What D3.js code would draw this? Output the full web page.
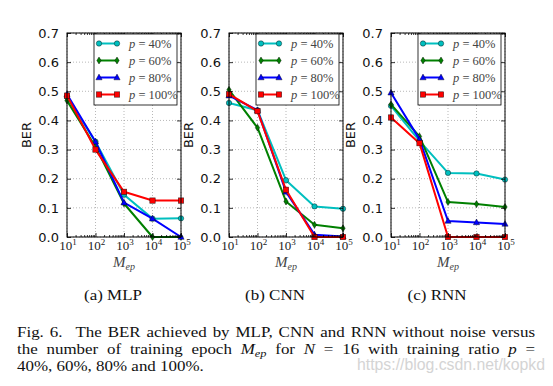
<!DOCTYPE html>
<html lang="en">
<head>
<meta charset="UTF-8">
<title>BER vs training epoch</title>
<script src="https://cdn.jsdelivr.net/npm/d3@7"></script>
<style>
    body { margin: 0; background: white; }
    svg { display: block; }
</style>
</head>
<body>
<svg></svg>
<script>
    // ---- data ----
    var epochs = [1e1, 1e2, 1e3, 1e4, 1e5];
    var ratios = ["40%", "60%", "80%", "100%"];
    var yTicks = [0, 0.1, 0.2, 0.3, 0.4, 0.5, 0.6, 0.7];
    var xTickExp = [1, 2, 3, 4, 5];

    var mlp40 = [0.480, 0.327, 0.145, 0.063, 0.064];
    var mlp60 = [0.468, 0.310, 0.115, 0.000, 0.000];
    var mlp80 = [0.490, 0.327, 0.118, 0.063, 0.000];
    var mlp100 = [0.485, 0.300, 0.155, 0.125, 0.125];

    var cnn40 = [0.460, 0.435, 0.195, 0.105, 0.097];
    var cnn60 = [0.505, 0.375, 0.122, 0.042, 0.030];
    var cnn80 = [0.485, 0.435, 0.155, 0.008, 0.002];
    var cnn100 = [0.490, 0.432, 0.162, 0.000, 0.000];

    var rnn40 = [0.450, 0.330, 0.220, 0.218, 0.197];
    var rnn60 = [0.455, 0.345, 0.120, 0.113, 0.103];
    var rnn80 = [0.495, 0.335, 0.055, 0.050, 0.045];
    var rnn100 = [0.410, 0.322, 0.000, 0.000, 0.000];

    var panelTitles = ["(a) MLP", "(b) CNN", "(c) RNN"];
    var panelSeries = [
        [mlp40, mlp60, mlp80, mlp100],
        [cnn40, cnn60, cnn80, cnn100],
        [rnn40, rnn60, rnn80, rnn100]
    ];

    // ---- layout ----
    var W = 553, H = 386;
    var svg = d3.select("svg").attr("width", W).attr("height", H);
    var panelLeft = [67, 229, 391];
    var plotW = 114, plotTop = 33, plotBottom = 237;
    var colors = ["#00bfbf", "#008000", "#0000ff", "#ff0000"];
    var markers = ["circle", "thin", "triangle", "square"];
    var tickFont = "'DejaVu Sans', sans-serif";
    var serif = "'Liberation Serif', 'DejaVu Serif', serif";
    var stretch = 1.13; // the scan is wider than it is tall

    var minorTicks = [];
    for (var e = 1; e < 5; e++) {
        for (var m = 2; m <= 9; m++) minorTicks.push(m * Math.pow(10, e));
    }

    function drawMarker(g, type, x, y, color) {
        var mk;
        if (type === "circle") {
            mk = g.append("circle").attr("cx", x).attr("cy", y).attr("r", 2.7);
        } else if (type === "thin") {
            mk = g.append("path").attr("d", "M" + x + "," + (y - 3.5) + "L" + (x + 2.2) + "," + y +
                "L" + x + "," + (y + 3.5) + "L" + (x - 2.2) + "," + y + "Z");
        } else if (type === "triangle") {
            mk = g.append("path").attr("d", "M" + x + "," + (y - 3.4) + "L" + (x + 3.1) + "," + (y + 2.3) +
                "L" + (x - 3.1) + "," + (y + 2.3) + "Z");
        } else {
            mk = g.append("rect").attr("x", x - 2.7).attr("y", y - 2.7).attr("width", 5.4).attr("height", 5.4);
        }
        mk.attr("fill", color).attr("stroke", "#000").attr("stroke-width", 0.6).attr("stroke-opacity", 0.7);
    }

    panelSeries.forEach(function(series, pi) {
        var left = panelLeft[pi];
        var x = d3.scaleLog().domain([1e1, 1e5]).range([left, left + plotW]);
        var y = d3.scaleLinear().domain([0, 0.7]).range([plotBottom, plotTop]);
        var g = svg.append("g");

        // dotted grid
        g.append("g").selectAll("line").data(epochs).enter().append("line")
            .attr("x1", function(d) { return x(d); }).attr("x2", function(d) { return x(d); })
            .attr("y1", plotTop).attr("y2", plotBottom)
            .attr("stroke", "#888").attr("stroke-width", 0.6).attr("stroke-dasharray", "1,2");
        g.append("g").selectAll("line").data(yTicks).enter().append("line")
            .attr("x1", left).attr("x2", left + plotW)
            .attr("y1", function(d) { return y(d); }).attr("y2", function(d) { return y(d); })
            .attr("stroke", "#888").attr("stroke-width", 0.6).attr("stroke-dasharray", "1,2");

        // data lines
        var line = d3.line().x(function(d, i) { return x(epochs[i]); }).y(function(d) { return y(d); });
        series.forEach(function(vals, si) {
            g.append("path").datum(vals).attr("d", line)
                .attr("fill", "none").attr("stroke", colors[si]).attr("stroke-width", 2)
                .attr("stroke-linejoin", "round");
            vals.forEach(function(v, i) { drawMarker(g, markers[si], x(epochs[i]), y(v), colors[si]); });
        });

        // axes with inward ticks
        function styleAxis(sel) {
            sel.select(".domain").remove();
            sel.selectAll("line").attr("stroke", "#000").attr("stroke-width", 0.8);
        }
        g.append("g").attr("transform", "translate(0," + plotBottom + ")")
            .call(d3.axisBottom(x).tickValues(epochs).tickSize(-4).tickFormat("")).call(styleAxis);
        g.append("g").attr("transform", "translate(0," + plotBottom + ")")
            .call(d3.axisBottom(x).tickValues(minorTicks).tickSize(-2).tickFormat("")).call(styleAxis);
        g.append("g").attr("transform", "translate(0," + plotTop + ")")
            .call(d3.axisTop(x).tickValues(epochs).tickSize(-4).tickFormat("")).call(styleAxis);
        g.append("g").attr("transform", "translate(0," + plotTop + ")")
            .call(d3.axisTop(x).tickValues(minorTicks).tickSize(-2).tickFormat("")).call(styleAxis);
        g.append("g").attr("transform", "translate(" + (left + plotW) + ",0)")
            .call(d3.axisRight(y).tickValues(yTicks).tickSize(-4).tickFormat("")).call(styleAxis);
        var yAxis = g.append("g").attr("transform", "translate(" + left + ",0)")
            .call(d3.axisLeft(y).tickValues(yTicks).tickSize(-4).tickPadding(8).tickFormat(d3.format(".1f")));
        styleAxis(yAxis);
        yAxis.selectAll("text").attr("font-family", tickFont).attr("font-size", 13).attr("fill", "#111");

        // frame
        g.append("rect").attr("x", left).attr("y", plotTop).attr("width", plotW)
            .attr("height", plotBottom - plotTop).attr("fill", "none").attr("stroke", "#000").attr("stroke-width", 1);

        // x tick labels 10^k
        xTickExp.forEach(function(k) {
            var t = g.append("text").attr("x", x(Math.pow(10, k)) + 1).attr("y", 250)
                .attr("text-anchor", "middle").attr("font-family", serif).attr("font-size", 13).attr("fill", "#222");
            t.append("tspan").text("10");
            t.append("tspan").attr("dy", -5).attr("font-size", 9).text(k);
        });

        // x label M_ep
        var xl = g.append("text").attr("x", left + plotW / 2).attr("y", 267)
            .attr("text-anchor", "middle").attr("font-family", serif).attr("font-style", "italic")
            .attr("font-size", 15).attr("fill", "#444");
        xl.append("tspan").text("M");
        xl.append("tspan").attr("dy", 3).attr("font-size", 10).text("ep");

        // y label
        g.append("text").attr("transform", "translate(" + (left - 36) + "," + ((plotTop + plotBottom) / 2) + ") rotate(-90)")
            .attr("text-anchor", "middle").attr("font-family", tickFont).attr("font-size", 13).attr("fill", "#111")
            .text("BER");

        // legend
        var lgW = 83, lgH = 71;
        var lx = left + plotW - lgW - 4, ly = plotTop + 1;
        var lg = g.append("g");
        lg.append("rect").attr("x", lx).attr("y", ly).attr("width", lgW).attr("height", lgH)
            .attr("fill", "#fff").attr("stroke", "#000").attr("stroke-width", 0.8);
        ratios.forEach(function(r, si) {
            var ry = ly + 9.5 + si * 17;
            lg.append("line").attr("x1", lx + 5).attr("x2", lx + 23).attr("y1", ry).attr("y2", ry)
                .attr("stroke", colors[si]).attr("stroke-width", 2);
            drawMarker(lg, markers[si], lx + 5, ry, colors[si]);
            drawMarker(lg, markers[si], lx + 23, ry, colors[si]);
            var t = lg.append("text").attr("x", lx + 35).attr("y", ry + 4)
                .attr("font-family", serif).attr("font-size", 12.5).attr("fill", "#444");
            t.append("tspan").attr("font-style", "italic").text("p");
            t.append("tspan").text(" = " + r);
        });

        // sub caption
        svg.append("text").attr("transform", "translate(" + (left + plotW / 2 - 11) + ",300) scale(" + stretch + ",1)")
            .attr("text-anchor", "middle").attr("font-family", serif).attr("font-size", 15).attr("fill", "#111")
            .text(panelTitles[pi]);
    });

    // ---- figure caption, justified lines ----
    var capLeft = 17, capRight = 535;
    var line1 = [[["Fig."]], [["6."]], [["The"]], [["BER"]], [["achieved"]], [["by"]], [["MLP,"]], [["CNN"]],
        [["and"]], [["RNN"]], [["without"]], [["noise"]], [["versus"]]];
    var line2 = [[["the"]], [["number"]], [["of"]], [["training"]], [["epoch"]], [["M", "i"], ["ep", "s"]],
        [["for"]], [["N", "i"]], [["="]], [["16"]], [["with"]], [["training"]], [["ratio"]], [["p", "i"]], [["="]]];
    var gapWeights1 = [1, 2.2, 1, 1, 1, 1, 1, 1, 1, 1, 1, 1];

    var cap = svg.append("g").attr("transform", "translate(" + capLeft + ",0) scale(" + stretch + ",1)");
    var capWidth = (capRight - capLeft) / stretch;

    function justifyLine(words, yPos, weights) {
        var nodes = words.map(function(runs) {
            var t = cap.append("text").attr("y", yPos).attr("font-family", serif).attr("font-size", 15).attr("fill", "#111");
            runs.forEach(function(r) {
                var ts = t.append("tspan").text(r[0]);
                if (r[1] === "i") ts.attr("font-style", "italic");
                if (r[1] === "s") ts.attr("font-style", "italic").attr("font-size", 11).attr("dy", 3);
            });
            return t;
        });
        var widths = nodes.map(function(n) { return n.node().getComputedTextLength(); });
        var total = d3.sum(widths);
        var w = weights || words.slice(1).map(function() { return 1; });
        var gap = (capWidth - total) / d3.sum(w);
        var cx = 0;
        nodes.forEach(function(n, i) {
            n.attr("x", cx);
            cx += widths[i] + (i < w.length ? gap * w[i] : 0);
        });
    }
    justifyLine(line1, 337, gapWeights1);
    justifyLine(line2, 354);
    cap.append("text").attr("x", 0).attr("y", 371).attr("font-family", serif).attr("font-size", 15)
        .attr("fill", "#111").text("40%, 60%, 80% and 100%.");

    // watermark
    svg.append("text").attr("x", 357).attr("y", 370)
        .attr("font-family", "'Liberation Sans', Arial, sans-serif").attr("font-size", 16)
        .attr("textLength", 188).attr("lengthAdjust", "spacingAndGlyphs")
        .attr("fill", "#d4d4d4").text("https://blog.csdn.net/kopkd");
</script>
</body>
</html>
